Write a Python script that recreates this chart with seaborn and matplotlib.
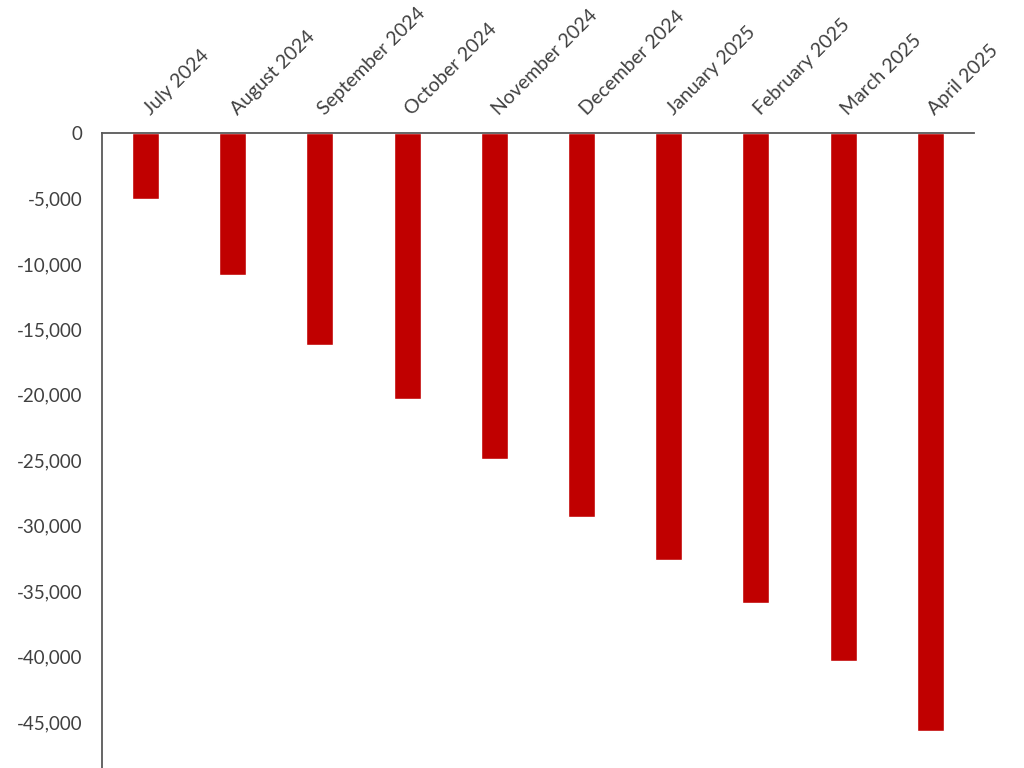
import pandas as pd
import seaborn as sns
import matplotlib
matplotlib.use("Agg")
import matplotlib.pyplot as plt
import matplotlib.transforms as mtrans
from matplotlib.ticker import FuncFormatter

# ------------------------------------------------------------
# DATA
# ------------------------------------------------------------
months = [
    "July 2024", "August 2024", "September 2024", "October 2024",
    "November 2024", "December 2024", "January 2025", "February 2025",
    "March 2025", "April 2025",
]
values = [-5050, -10850, -16200, -20350, -24900,
          -29300, -32600, -35900, -40300, -45700]
y_ticks = [0, -5000, -10000, -15000, -20000, -25000,
           -30000, -35000, -40000, -45000]

df = pd.DataFrame({"month": months, "value": values})

# ------------------------------------------------------------
# STYLE
# ------------------------------------------------------------
sns.set_style("white")
plt.rcParams["font.family"] = ["Lato", "DejaVu Sans"]

axis_grey = "#595959"
text_grey = "#404040"

fig = plt.figure(figsize=(10.24, 7.68), dpi=100)
ax = fig.add_axes([0.0996, 0.0, 0.8515, 0.8268])

sns.barplot(
    data=df, x="month", y="value",
    color="#C00000", saturation=1, width=0.31, ax=ax,
)

ax.set_ylim(-48500, 0)
ax.set_xlim(-0.5, len(months) - 0.5)
ax.set_yticks(y_ticks)
ax.yaxis.set_major_formatter(FuncFormatter(lambda v, p: f"{int(v):,}"))

ax.xaxis.tick_top()
ax.set_xlabel("")
ax.set_ylabel("")

ax.tick_params(axis="y", length=0, pad=14, labelsize=13.5, labelcolor=text_grey)
ax.tick_params(axis="x", length=0, pad=12, labelsize=14, labelcolor=text_grey)

# nudge the slanted month labels a little to the right
shift = mtrans.ScaledTranslation(5 / 100, 0, fig.dpi_scale_trans)
for lab in ax.get_xticklabels():
    lab.set_rotation(45)
    lab.set_ha("left")
    lab.set_va("baseline")
    lab.set_rotation_mode("anchor")
    lab.set_transform(lab.get_transform() + shift)

for side in ["right", "bottom"]:
    ax.spines[side].set_visible(False)
for side in ["left", "top"]:
    ax.spines[side].set_color(axis_grey)
    ax.spines[side].set_linewidth(1.3)

fig.savefig("out.png", dpi=100)
